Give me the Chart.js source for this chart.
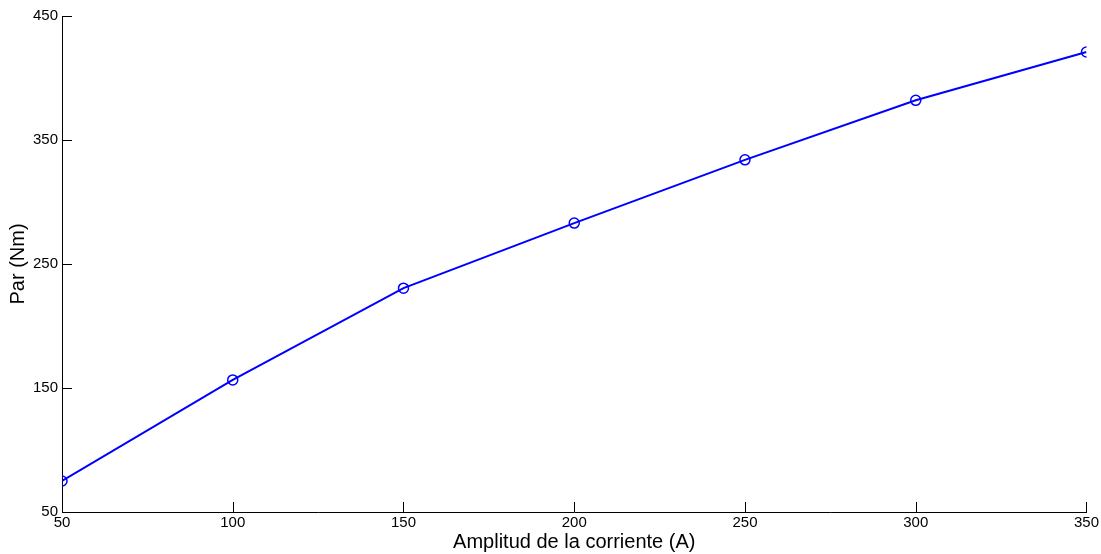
<!DOCTYPE html>
<html>
<head>
<meta charset="utf-8">
<script src="https://cdn.jsdelivr.net/npm/chart.js@4.4.0/dist/chart.umd.min.js"></script>
<style>
  html, body { margin: 0; padding: 0; background: #fff; }
  #wrap { width: 1101px; height: 554px; }
</style>
</head>
<body>
<div id="wrap"><canvas id="parChart" width="1101" height="554"></canvas></div>
<script>
// datos
const corriente = [50, 100, 150, 200, 250, 300, 350];
const par = [75, 156.5, 230.5, 283, 334, 382, 421];
const xTicks = [50, 100, 150, 200, 250, 300, 350];
const yTicks = [50, 150, 250, 350, 450];

// marcas de eje hacia dentro (estilo matlab)
const inwardTicks = {
    id: 'inwardTicks',
    afterDraw(chart) {
        const ctx = chart.ctx;
        const xs = chart.scales.x, ys = chart.scales.y;
        const area = chart.chartArea;
        ctx.save();
        ctx.strokeStyle = '#000';
        ctx.lineWidth = 1;
        ctx.beginPath();
        xTicks.forEach(v => {
            const px = Math.round(xs.getPixelForValue(v)) + 0.5;
            ctx.moveTo(px, area.bottom);
            ctx.lineTo(px, area.bottom - 10);
        });
        yTicks.forEach(v => {
            const py = Math.round(ys.getPixelForValue(v)) + 0.5;
            ctx.moveTo(area.left, py);
            ctx.lineTo(area.left + 10, py);
        });
        ctx.stroke();
        ctx.restore();
    }
};

const ctx = document.getElementById('parChart').getContext('2d');
const myChart = new Chart(ctx, {
    type: 'line',
    data: {
        datasets: [{
            data: corriente.map((c, i) => ({x: c, y: par[i]})),
            borderColor: '#0000ff',
            borderWidth: 2,
            pointRadius: 5,
            pointBorderWidth: 1.5,
            pointBorderColor: '#0000ff',
            pointBackgroundColor: 'rgba(0,0,0,0)',
            tension: 0
        }]
    },
    options: {
        responsive: false,
        animation: false,
        layout: { padding: { left: 0, right: 14, top: 16, bottom: 0 } },
        plugins: {
            legend: { display: false },
            tooltip: { enabled: false }
        },
        scales: {
            x: {
                type: 'linear',
                min: 50,
                max: 350,
                afterBuildTicks: s => { s.ticks = xTicks.map(v => ({value: v})); },
                afterFit: s => { s.height = 42; },
                grid: { display: false, drawTicks: false },
                border: { display: true, color: '#000', width: 1 },
                ticks: {
                    color: '#000',
                    padding: 2,
                    maxRotation: 0,
                    font: { family: 'Liberation Sans, Arial', size: 15 }
                },
                title: {
                    display: true,
                    text: 'Amplitud de la corriente (A)',
                    color: '#000',
                    padding: { top: 0, bottom: 0 },
                    font: { family: 'Liberation Sans, Arial', size: 20 }
                }
            },
            y: {
                type: 'linear',
                min: 50,
                max: 450,
                afterBuildTicks: s => { s.ticks = yTicks.map(v => ({value: v})); },
                afterFit: s => { s.width = 62; },
                grid: { display: false, drawTicks: false },
                border: { display: true, color: '#000', width: 1 },
                ticks: {
                    color: '#000',
                    padding: 4,
                    font: { family: 'Liberation Sans, Arial', size: 15 }
                },
                title: {
                    display: true,
                    text: 'Par (Nm)',
                    color: '#000',
                    padding: { top: 6, bottom: 0 },
                    font: { family: 'Liberation Sans, Arial', size: 20 }
                }
            }
        }
    },
    plugins: [inwardTicks]
});
</script>
</body>
</html>
